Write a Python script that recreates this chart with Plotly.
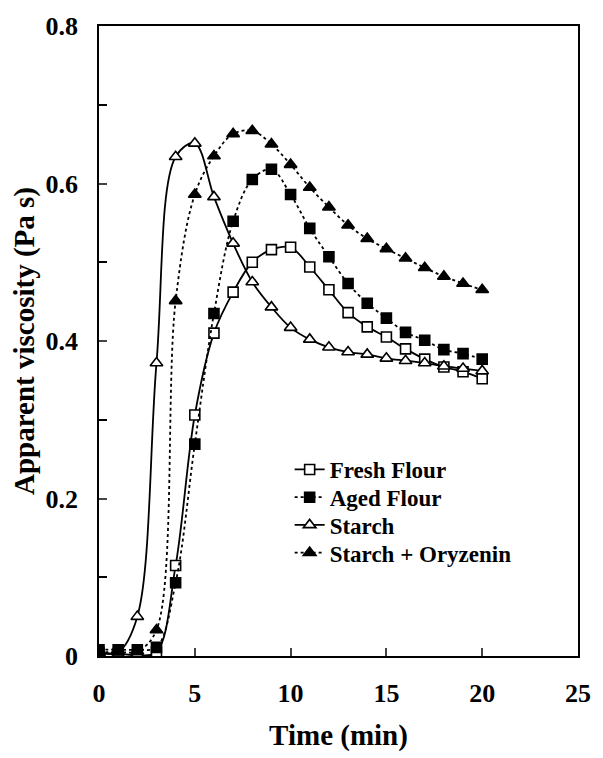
import plotly.graph_objects as go

time_min = list(range(0, 21))
fresh_flour = [0.004, 0.003, 0.001, 0.005, 0.115, 0.306, 0.41, 0.462, 0.500, 0.516, 0.519,
               0.494, 0.465, 0.436, 0.418, 0.405, 0.390, 0.377, 0.367, 0.361, 0.352]
aged_flour = [0.008, 0.008, 0.008, 0.011, 0.093, 0.269, 0.435, 0.552, 0.605, 0.618, 0.586,
              0.543, 0.507, 0.473, 0.448, 0.429, 0.411, 0.401, 0.389, 0.384, 0.377]
starch = [0.004, 0.005, 0.050, 0.372, 0.634, 0.651, 0.583, 0.524, 0.475, 0.443, 0.417,
          0.402, 0.392, 0.386, 0.383, 0.378, 0.375, 0.372, 0.368, 0.365, 0.362]
starch_oryzenin = [0.005, 0.005, 0.006, 0.033, 0.451, 0.586, 0.635, 0.663, 0.667, 0.650, 0.624,
                   0.595, 0.570, 0.547, 0.530, 0.517, 0.505, 0.493, 0.482, 0.473, 0.465]

series = [
    ("Fresh Flour", fresh_flour, "solid", "square", "white", 10),
    ("Aged Flour", aged_flour, "dot", "square", "black", 10),
    ("Starch", starch, "solid", "triangle-up", "white", 11),
    ("Starch + Oryzenin", starch_oryzenin, "dot", "triangle-up", "black", 11),
]
legend_ids = ["legend", "legend2", "legend3", "legend4"]
legend_rows_y = [0.296, 0.252, 0.208, 0.164]

fig = go.Figure()
for (name, vals, dash, sym, fill, sz), lid in zip(series, legend_ids):
    fig.add_trace(go.Scatter(
        x=time_min, y=vals, name=name, mode="lines+markers", legend=lid,
        line=dict(color="black", width=1.8, dash=dash, shape="spline", smoothing=1.0),
        marker=dict(symbol=sym, size=sz, color=fill, line=dict(color="black", width=1.6)),
    ))

font = "Liberation Serif, Times New Roman, serif"
legend_common = dict(x=0.398, xanchor="left", yanchor="middle", bgcolor="rgba(0,0,0,0)",
                     font=dict(family=font, size=23, color="black", weight="bold"))
fig.update_layout(
    width=603, height=758,
    margin=dict(l=99, r=14, t=22, b=101),
    paper_bgcolor="white", plot_bgcolor="white",
    font=dict(family=font, color="black", size=20),
    showlegend=True,
    **{lid: dict(y=yy, **legend_common) for lid, yy in zip(legend_ids, legend_rows_y)},
)
fig.update_xaxes(
    range=[0, 25], tickvals=[0, 5, 10, 15, 20, 25], ticks="inside", ticklen=8,
    tickwidth=1.5, showline=True, linecolor="black", linewidth=1.5, mirror=True,
    showgrid=False, zeroline=False, ticklabelstandoff=13,
    tickfont=dict(family=font, size=26, weight="bold"),
    title=dict(text="Time (min)", font=dict(family=font, size=29, weight="bold"), standoff=18),
)
fig.update_yaxes(
    range=[0, 0.8], tickvals=[0, 0.2, 0.4, 0.6, 0.8], ticktext=["0", "0.2", "0.4", "0.6", "0.8"],
    ticks="inside", ticklen=8, tickwidth=1.5,
    minor=dict(tickvals=[0.1, 0.3, 0.5, 0.7], ticks="inside", ticklen=8, tickwidth=1.5, tickcolor="black"),
    showline=True, linecolor="black", linewidth=1.5, mirror=True,
    showgrid=False, zeroline=False, ticklabelstandoff=14,
    tickfont=dict(family=font, size=26, weight="bold"),
    title=dict(text="Apparent viscosity (Pa s)", font=dict(family=font, size=29, weight="bold"), standoff=2),
)
fig.write_html("out.html")
